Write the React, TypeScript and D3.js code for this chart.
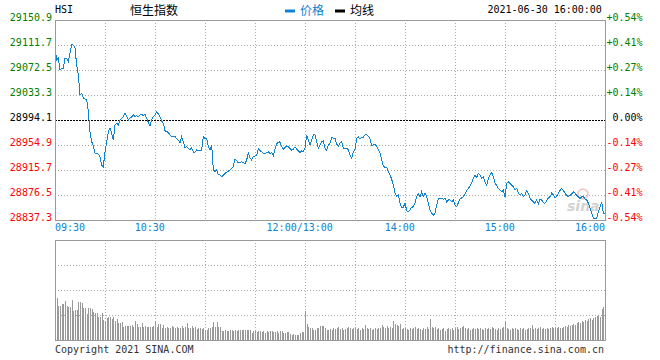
import React from "react";
import * as d3 from "d3";

// ---------- data ----------
const prevClose = 28994.1;
const yTickValues = [29150.9, 29111.7, 29072.5, 29033.3, 28994.1, 28954.9, 28915.7, 28876.5, 28837.3];
const timeLabelMinutes = [0, 60, 150, 210, 270, 330];
const timeLabelTexts = ["09:30", "10:30", "12:00/13:00", "14:00", "15:00", "16:00"];
const gridMinutes = [30, 60, 90, 120, 150, 180, 210, 240, 270, 300];
const totalMinutes = 330;

// one value per minute, 09:30 .. 12:00 | 13:00 .. 16:00
const prices = [
  29109.0, 29088.2, 29090.9, 29072.5, 29075.2, 29075.2, 29090.9, 29090.9, 29085.5, 29098.7,
  29112.8, 29111.7, 29106.5, 29080.3, 29064.7, 29033.3, 29036.0, 29028.1, 29027.0, 29025.5,
  29007.1, 28975.8, 28960.1, 28953.8, 28941.9, 28941.9, 28940.3, 28936.6, 28923.5, 28920.9,
  28944.4, 28960.1, 28975.8, 28981.1, 28973.2, 28962.7, 28986.3, 28988.9, 28986.3, 28994.1,
  28996.8, 28999.3, 29004.6, 28999.3, 28994.1, 28996.8, 28999.3, 29001.9, 28999.3, 29000.8,
  28999.3, 29001.9, 29003.0, 29000.8, 29003.0, 28996.8, 28990.5, 28985.2, 28994.1, 28999.3,
  29001.9, 29007.1, 29003.5, 28999.3, 28992.5, 28988.9, 28977.3, 28975.8, 28974.8, 28970.6,
  28967.9, 28967.9, 28969.0, 28964.3, 28962.7, 28957.6, 28967.9, 28960.1, 28950.7, 28952.2,
  28949.7, 28947.1, 28950.7, 28943.5, 28943.5, 28947.1, 28945.5, 28945.5, 28947.1, 28967.9,
  28965.4, 28965.4, 28952.2, 28947.1, 28954.9, 28915.7, 28913.0, 28915.7, 28907.9, 28907.9,
  28905.2, 28907.9, 28910.5, 28912.1, 28914.1, 28915.7, 28918.4, 28920.9, 28933.4, 28930.1,
  28926.7, 28927.2, 28928.7, 28927.2, 28925.1, 28931.4, 28942.8, 28934.1, 28931.4, 28936.6,
  28937.7, 28939.2, 28949.7, 28946.0, 28944.4, 28941.9, 28940.8, 28942.8, 28944.4, 28941.9,
  28942.8, 28937.7, 28948.2, 28957.6, 28958.5, 28960.1, 28952.2, 28948.2, 28951.3, 28953.3,
  28952.2, 28949.7, 28947.1, 28948.2, 28952.2, 28948.2, 28946.0, 28942.8, 28946.0, 28944.4,
  28949.7, 28970.6, 28962.7, 28954.9, 28962.7, 28970.6, 28970.6, 28960.1, 28949.7, 28954.9,
  28960.1, 28961.6, 28949.7, 28947.1, 28954.9, 28957.6, 28967.0, 28965.4, 28965.4, 28956.5,
  28952.2, 28957.6, 28960.1, 28949.7, 28949.7, 28949.7, 28947.1, 28939.2, 28934.1, 28944.4,
  28948.2, 28965.4, 28967.9, 28963.8, 28967.0, 28967.0, 28970.6, 28970.6, 28969.0, 28963.8,
  28954.9, 28954.9, 28956.5, 28952.2, 28948.2, 28941.9, 28931.4, 28922.0, 28919.9, 28919.9,
  28913.0, 28907.9, 28901.1, 28892.2, 28879.2, 28874.9, 28876.5, 28863.5, 28857.2, 28857.2,
  28864.4, 28851.9, 28850.3, 28853.0, 28857.2, 28858.2, 28863.5, 28873.8, 28878.1, 28872.9,
  28881.7, 28873.8, 28879.2, 28873.8, 28863.5, 28853.0, 28847.8, 28845.1, 28847.8, 28860.8,
  28871.3, 28871.3, 28871.3, 28869.8, 28871.3, 28866.0, 28868.7, 28868.7, 28866.0, 28868.7,
  28860.8, 28858.2, 28864.4, 28869.8, 28872.3, 28873.8, 28878.1, 28883.2, 28887.0, 28890.6,
  28894.9, 28902.7, 28907.9, 28904.3, 28910.5, 28907.9, 28902.7, 28905.2, 28897.4, 28892.2,
  28902.7, 28907.9, 28911.5, 28905.2, 28894.9, 28892.2, 28887.0, 28884.3, 28881.7, 28884.3,
  28873.8, 28894.9, 28897.4, 28894.9, 28892.2, 28889.5, 28884.3, 28887.0, 28879.2, 28876.5,
  28879.2, 28873.8, 28876.5, 28883.2, 28879.2, 28871.3, 28868.7, 28866.0, 28863.5, 28868.7,
  28862.4, 28870.2, 28868.7, 28864.4, 28863.5, 28867.1, 28871.8, 28873.8, 28879.2, 28876.5,
  28871.3, 28874.9, 28879.2, 28883.6, 28887.0, 28883.6, 28879.2, 28875.7, 28873.8, 28875.7,
  28878.1, 28881.7, 28879.2, 28876.5, 28873.4, 28871.3, 28873.4, 28873.8, 28870.2, 28868.7,
  28864.0, 28855.6, 28848.3, 28840.0, 28840.0, 28840.0, 28849.8, 28858.2, 28866.0, 28847.8,
  28847.8,
];

// relative volume per minute (panel top = volumeMax)
const volumeMax = 100;
const volumes = [
  42, 42, 34, 34, 36, 36, 39, 34, 33, 33,
  40, 29, 30, 30, 38, 38, 37, 32, 32, 26,
  32, 32, 31, 28, 27, 27, 23, 23, 27, 20,
  19, 22, 23, 23, 21, 23, 19, 21, 17, 17,
  18, 13, 14, 14, 14, 14, 15, 13, 19, 16,
  13, 13, 17, 13, 14, 13, 13, 13, 13, 14,
  19, 13, 16, 16, 12, 15, 12, 13, 12, 12,
  14, 13, 12, 13, 12, 12, 14, 12, 13, 17,
  12, 12, 14, 12, 13, 11, 12, 12, 11, 12,
  10, 10, 12, 12, 13, 18, 13, 18, 13, 13,
  9, 9, 10, 9, 9, 10, 10, 9, 10, 9,
  10, 10, 10, 10, 10, 10, 10, 10, 7, 9,
  9, 8, 9, 9, 8, 9, 7, 9, 8, 9,
  9, 8, 8, 9, 7, 9, 9, 7, 7, 8,
  8, 6, 5, 6, 5, 5, 5, 7, 8, 8,
  29, 16, 13, 12, 12, 10, 10, 12, 12, 14,
  14, 14, 12, 10, 10,
  11, 10, 12, 11, 12, 13, 11, 12, 10, 11, 12, 13, 12, 11, 12,
  13, 11, 12, 10, 12, 11, 15, 12, 11, 12, 10, 11, 12, 11, 12,
  12, 15, 13, 12, 14, 12, 13, 12, 19, 16, 15, 14, 16, 11, 12,
  12, 11, 10, 12, 11, 12, 13, 11, 12, 11, 10, 12, 11, 13, 11,
  21, 13, 12, 13, 11, 12, 10, 11, 12, 9, 11, 12, 11, 12, 10,
  12, 13, 11, 12, 13, 14, 12, 11, 12, 10, 11, 12, 11, 12, 11,
  12, 11, 10, 12, 11, 12, 11, 13, 12, 11, 10, 12, 11, 12, 13,
  18, 12, 11, 10, 12, 11, 12, 11, 10, 12, 11, 12, 10, 11, 12,
  12, 15, 11, 12, 11, 12, 13, 11, 12, 11, 12, 11, 12, 13, 12,
  12, 12, 13, 12, 12, 13, 14, 13, 15, 14, 15, 16, 15, 17, 18,
  17, 19, 18, 20, 19, 21, 22, 20, 22, 23, 24, 25, 23, 31, 33, 33,
];

// ---------- layout ----------
const W = 660, H = 360;
const L = 55, R = 605, T = 20, B = 220, VT = 240, VB = 340;
const MONO = "'DejaVu Sans Mono', monospace";
const CJK = "'Noto Sans CJK SC', sans-serif";
const GREEN = "#008000", RED = "#ff0000", BLUE = "#0f82d2", GRID = "#aaaaaa", BORDER = "#999999";

export default function App() {
  const x = d3.scaleLinear().domain([0, totalMinutes]).range([L, R]);
  const y = d3.scaleLinear().domain([yTickValues[yTickValues.length - 1], yTickValues[0]]).range([B, T]);
  const vy = d3.scaleLinear().domain([0, volumeMax]).range([VB, VT]);
  const line = d3.line<number>().x((_, i) => x(i)).y((d) => y(d));
  const volGrid = d3.range(1, 4).map((k) => (volumeMax / 4) * k);

  const tickColor = (v: number) => (Math.abs(v - prevClose) < 1e-6 ? "#000" : v > prevClose ? GREEN : RED);
  const pctText = (v: number) => {
    const p = ((v - prevClose) / prevClose) * 100;
    if (Math.abs(p) < 0.005) return "0.00%";
    return (p > 0 ? "+" : "-") + Math.abs(p).toFixed(2) + "%";
  };

  return (
    <svg width={W} height={H} style={{ position: "absolute", left: 0, top: 0, display: "block", background: "#fff" }}>
      {/* header */}
      <text x={55} y={13} fontFamily={MONO} fontSize={10} fill="#000">HSI</text>
      <text x={130} y={14.5} fontFamily={CJK} fontSize={12} fill="#000">恒生指数</text>
      <rect x={285} y={9.5} width={10} height={3} fill={BLUE} />
      <text x={300} y={14.5} fontFamily={CJK} fontSize={12} fill={BLUE}>价格</text>
      <rect x={335} y={9.5} width={10} height={3} fill="#000" />
      <text x={350} y={14.5} fontFamily={CJK} fontSize={12} fill="#000">均线</text>
      <text x={487.5} y={13} fontFamily={MONO} fontSize={10} fill="#000">2021-06-30 16:00:00</text>

      {/* price panel grid */}
      <g shapeRendering="crispEdges">
        {gridMinutes.map((m) => (
          <line key={"vg" + m} x1={Math.round(x(m)) + 0.5} x2={Math.round(x(m)) + 0.5} y1={T} y2={B}
            stroke={GRID} strokeDasharray="1,2" />
        ))}
        {yTickValues.slice(1, -1).map((v) => (
          <line key={"hg" + v} x1={L} x2={R} y1={Math.round(y(v)) + 0.5} y2={Math.round(y(v)) + 0.5}
            stroke={v === prevClose ? "#000" : GRID} strokeDasharray={v === prevClose ? "2,1" : "1,2"} />
        ))}
      </g>

      {/* watermark */}
      <g opacity={0.75}>
        <circle cx={583} cy={194} r={5} fill="none" stroke="#f3a9a9" strokeWidth={1.5} />
        <text x={567} y={211} fontFamily="'DejaVu Sans', sans-serif" fontStyle="italic" fontWeight="bold"
          fontSize={14} fill="#c4c4c4">sina</text>
      </g>

      {/* price line */}
      <path d={line(prices) || ""} fill="none" stroke={BLUE} strokeWidth={1} shapeRendering="crispEdges" />

      {/* price panel border */}
      <rect x={L + 0.5} y={T + 0.5} width={R - L} height={B - T} fill="none" stroke={BORDER} shapeRendering="crispEdges" />

      {/* left & right tick labels */}
      {yTickValues.map((v) => (
        <g key={"yl" + v}>
          <text x={52} y={y(v) + 0.5} textAnchor="end" fontFamily={MONO} fontSize={10} fill={tickColor(v)}>
            {v.toFixed(1)}
          </text>
          <text x={642.5} y={y(v) + 0.5} textAnchor="end" fontFamily={MONO} fontSize={10} fill={tickColor(v)}>
            {pctText(v)}
          </text>
        </g>
      ))}

      {/* time labels */}
      {timeLabelMinutes.map((m, i) => {
        const first = i === 0, last = i === timeLabelMinutes.length - 1;
        return (
          <text key={"tl" + m} x={first ? x(m) : last ? x(m) : x(m) - 5.3} y={230.5}
            textAnchor={first ? "start" : last ? "end" : "middle"} fontFamily={MONO} fontSize={10} fill={BLUE}>
            {timeLabelTexts[i]}
          </text>
        );
      })}

      {/* volume panel */}
      <g shapeRendering="crispEdges">
        {gridMinutes.map((m) => (
          <line key={"vvg" + m} x1={Math.round(x(m)) + 0.5} x2={Math.round(x(m)) + 0.5} y1={VT} y2={VB}
            stroke={GRID} strokeDasharray="1,2" />
        ))}
        {volGrid.map((v) => (
          <line key={"vhg" + v} x1={L} x2={R} y1={Math.round(vy(v)) + 0.5} y2={Math.round(vy(v)) + 0.5}
            stroke={GRID} strokeDasharray="1,2" />
        ))}
        {volumes.map((v, i) => (
          <rect key={"vb" + i} x={Math.round(x(i))} y={vy(v)} width={1} height={VB - vy(v)} fill="#999" />
        ))}
        <rect x={L + 0.5} y={VT + 0.5} width={R - L} height={VB - VT} fill="none" stroke={BORDER} />
      </g>

      {/* footer */}
      <text x={55} y={352.5} fontFamily={MONO} fontSize={10} fill="#333">Copyright 2021 SINA.COM</text>
      <text x={604} y={352.5} textAnchor="end" fontFamily={MONO} fontSize={10} fill="#333">http://finance.sina.com.cn</text>
    </svg>
  );
}
